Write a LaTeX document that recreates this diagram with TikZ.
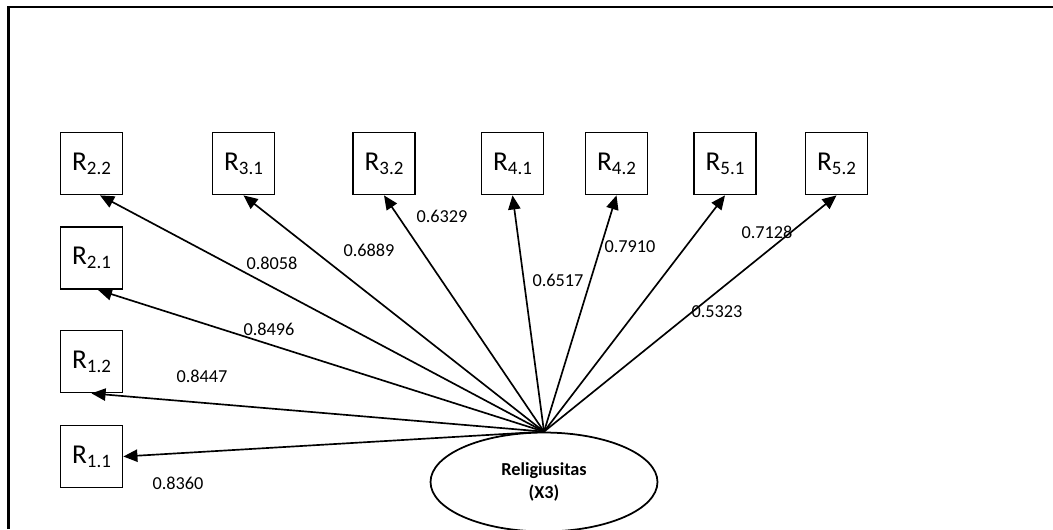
\documentclass[tikz,border=0pt]{standalone}
\usepackage{fontspec}
\setmainfont{Carlito}
\usetikzlibrary{arrows.meta}
\usetikzlibrary{shapes}

\newcommand{\Rlab}[1]{{\fontsize{15.5}{18}\selectfont R}\raisebox{-2.3pt}{\fontsize{10.8}{12}\selectfont #1}}

\begin{document}
\begin{tikzpicture}[x = 0.02cm, y = -0.02cm]
\tikzstyle{IndStyle}=[shape = rectangle,
                      minimum size = 1.24cm,
                      inner sep = 0pt,
                      line width = 1pt,
                      draw]
\tikzstyle{LatentStyle}=[shape = ellipse,
                         minimum width = 4.54cm,
                         minimum height = 1.98cm,
                         inner sep = 0pt,
                         line width = 1pt,
                         align = center,
                         font = \fontsize{10.4}{13}\selectfont\bfseries,
                         draw]
\tikzstyle{LoadStyle}=[inner sep = 0pt, font = \fontsize{10.4}{12}\selectfont]
\tikzstyle{EdgeStyle}=[line width = 0.95pt, -{Triangle[length = 8pt, width = 7pt]}]
\useasboundingbox (0,0) rectangle (1053,529);
\draw[line width = 1.2pt] (8.5,529) -- (8.5,6.7) -- (1053,6.7);
% indicators
\node[IndStyle] (r22) at (91.5,163.5) {\Rlab{2.2}};
\node[IndStyle] (r21) at (91.5,258) {\Rlab{2.1}};
\node[IndStyle] (r12) at (91.5,361.5) {\Rlab{1.2}};
\node[IndStyle] (r11) at (91.5,456.5) {\Rlab{1.1}};
\node[IndStyle] (r31) at (243.5,163.5) {\Rlab{3.1}};
\node[IndStyle] (r32) at (384,163.5) {\Rlab{3.2}};
\node[IndStyle] (r41) at (512.5,163.5) {\Rlab{4.1}};
\node[IndStyle] (r42) at (616.5,163.5) {\Rlab{4.2}};
\node[IndStyle] (r51) at (725,163.5) {\Rlab{5.1}};
\node[IndStyle] (r52) at (836.5,163.5) {\Rlab{5.2}};
% latent variable
\node[LatentStyle] (rel) at (544,482) {Religiusitas\\(X3)};
% loadings
\draw[EdgeStyle] (rel.north) -- ([xshift = 8.5*0.02cm]r22.south);
\draw[EdgeStyle] (rel.north) -- ([xshift = 6.5*0.02cm]r21.south);
\draw[EdgeStyle] (rel.north) -- (r12.south);
\draw[EdgeStyle] (rel.north) -- (r11.east);
\draw[EdgeStyle] (rel.north) -- (r31.south);
\draw[EdgeStyle] (rel.north) -- (r32.south);
\draw[EdgeStyle] (rel.north) -- (r41.south);
\draw[EdgeStyle] (rel.north) -- (r42.south);
\draw[EdgeStyle] (rel.north) -- (r51.south);
\draw[EdgeStyle] (rel.north) -- (r52.south);
\node[LoadStyle] (l22) at (272,263) {0.8058};
\node[LoadStyle] (l21) at (269,329) {0.8496};
\node[LoadStyle] (l12) at (202,376) {0.8447};
\node[LoadStyle] (l11) at (178,483) {0.8360};
\node[LoadStyle] (l31) at (369,250) {0.6889};
\node[LoadStyle] (l32) at (442,216) {0.6329};
\node[LoadStyle] (l41) at (558,280) {0.6517};
\node[LoadStyle] (l42) at (630,247) {0.7910};
\node[LoadStyle] (l52) at (767,232) {0.7128};
\node[LoadStyle] (l51) at (717,312) {0.5323};
\end{tikzpicture}
\end{document}
